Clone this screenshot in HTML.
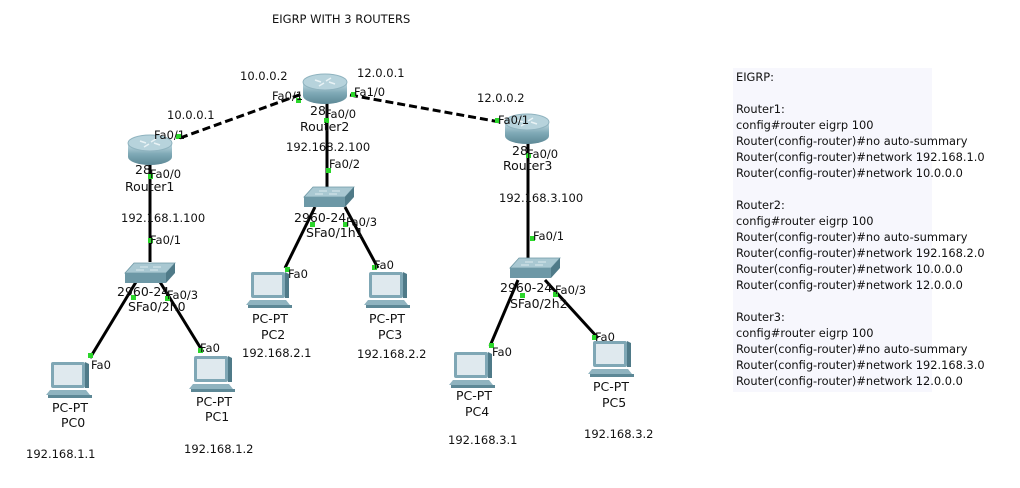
<!DOCTYPE html>
<html><head><meta charset="utf-8"><style>
html,body{margin:0;padding:0;background:#fff;}
body{width:1020px;height:488px;position:relative;overflow:hidden;font-family:"Liberation Sans",sans-serif;}
svg{position:absolute;left:0;top:0;}
svg text{font-family:"DejaVu Sans","Liberation Sans",sans-serif;font-size:11.5px;fill:#111;}
svg text.b{font-size:12.5px;}
svg text.t{font-size:11.5px;}
.box{position:absolute;left:733px;top:68px;width:199px;height:324px;background:#f7f7fd;}
.cfg{position:absolute;left:736px;top:69px;font-family:"DejaVu Sans","Liberation Sans",sans-serif;font-size:11.4px;line-height:16px;white-space:pre;color:#111;}
</style></head><body>
<div class="box"></div>
<div class="cfg">EIGRP:

Router1:
config#router eigrp 100
Router(config-router)#no auto-summary
Router(config-router)#network 192.168.1.0
Router(config-router)#network 10.0.0.0

Router2:
config#router eigrp 100
Router(config-router)#no auto-summary
Router(config-router)#network 192.168.2.0
Router(config-router)#network 10.0.0.0
Router(config-router)#network 12.0.0.0

Router3:
config#router eigrp 100
Router(config-router)#no auto-summary
Router(config-router)#network 192.168.3.0
Router(config-router)#network 12.0.0.0</div>
<svg width="1020" height="488" viewBox="0 0 1020 488">
<defs>
<linearGradient id="rg" x1="0" y1="0" x2="0" y2="1"><stop offset="0" stop-color="#c5dde5"/><stop offset="0.5" stop-color="#7fa9b6"/><stop offset="1" stop-color="#5d8896"/></linearGradient>
<g id="router">
<path d="M-22,-7 L-22,7 A22,8 0 0 0 22,7 L22,-7 Z" fill="url(#rg)"/>
<ellipse cx="0" cy="-7" rx="22" ry="8" fill="#b7d3dc" stroke="#8fb3bf"/>
<path d="M-10,-9 l6,2 M10,-5 l-6,-2 M-6,-3 l5,-3 M6,-11 l-5,3" stroke="#e8f2f5" stroke-width="1.5"/>
</g>
<g id="switch">
<path d="M-16,-10 L25,-10 L16,0 L-25,0 Z" fill="#a9c8d2" stroke="#6f98a5" stroke-width="0.8"/>
<path d="M-25,0 L16,0 L16,10 L-25,10 Z" fill="#6d98a6"/>
<path d="M16,0 L25,-10 L25,0 L16,10 Z" fill="#4f7a88"/>
<path d="M-10,-6 h8 M3,-6 h8 M-14,-3 h8 M0,-3 h8" stroke="#dbeaef" stroke-width="1"/>
</g>
<g id="pc">
<rect x="-19" y="-18" width="34" height="26" rx="2" fill="#7fa7b5"/>
<rect x="-16" y="-15" width="28" height="20" fill="#dfe9ee"/>
<path d="M15,-18 l4,2 v24 l-4,0 Z" fill="#4f7a88"/>
<path d="M-20,10 h36 l4,5 h-44 Z" fill="#8fb3bf"/>
<path d="M-22,15 h44 v3 h-44 Z" fill="#5d8896"/>
</g>
</defs>
<text x="272" y="23" class="t">EIGRP WITH 3 ROUTERS</text>
<g stroke="#000" stroke-width="3" fill="none">
<path d="M180,138 L302,94" stroke-dasharray="8,4"/>
<path d="M350,95 L500,122" stroke-dasharray="8,4"/>
<path d="M150,160 V262"/>
<path d="M327,101 V187"/>
<path d="M528,143 V258"/>
<path d="M136,282 L90,358"/><path d="M160,282 L203,352"/>
<path d="M315,207 L285,268"/><path d="M345,207 L378,268"/>
<path d="M518,280 L490,346"/><path d="M545,280 L598,338"/>
</g>
<use href="#router" x="150" y="150"/>
<use href="#router" x="325" y="89"/>
<use href="#router" x="527" y="129"/>
<use href="#switch" x="150" y="273"/>
<use href="#switch" x="329" y="197"/>
<use href="#switch" x="535" y="268"/>
<use href="#pc" x="70" y="380"/>
<use href="#pc" x="213" y="374"/>
<use href="#pc" x="270" y="290"/>
<use href="#pc" x="388" y="290"/>
<use href="#pc" x="473" y="370"/>
<use href="#pc" x="612" y="359"/>
<g fill="#2bd62b">
<rect x="176" y="134" width="5" height="5"/><rect x="296" y="98" width="5" height="5"/>
<rect x="351" y="92" width="5" height="5"/><rect x="495" y="118" width="5" height="5"/>
<rect x="148" y="174" width="5" height="5"/><rect x="324" y="118" width="5" height="5"/>
<rect x="526" y="153" width="5" height="5"/>
<rect x="148" y="238" width="5" height="5"/><rect x="326" y="168" width="5" height="5"/><rect x="530" y="236" width="5" height="5"/>
<rect x="131" y="295" width="5" height="5"/><rect x="165" y="296" width="5" height="5"/>
<rect x="88" y="353" width="5" height="5"/><rect x="198" y="348" width="5" height="5"/>
<rect x="310" y="222" width="5" height="5"/><rect x="343" y="222" width="5" height="5"/>
<rect x="285" y="267" width="5" height="5"/><rect x="372" y="265" width="5" height="5"/>
<rect x="520" y="293" width="5" height="5"/><rect x="553" y="292" width="5" height="5"/>
<rect x="489" y="343" width="5" height="5"/><rect x="592" y="335" width="5" height="5"/>
</g>
<g>
<text x="240" y="80">10.0.0.2</text><text x="357" y="77">12.0.0.1</text>
<text x="272" y="100">Fa0/1</text><text x="354" y="96">Fa1/0</text>
<text x="167" y="119">10.0.0.1</text><text x="477" y="102">12.0.0.2</text>
<text x="310" y="115" class="b">28</text><text x="325" y="118">Fa0/0</text><text x="300" y="131" class="b">Router2</text>
<text x="154" y="139">Fa0/1</text><text x="498" y="124">Fa0/1</text>
<text x="135" y="174" class="b">28</text><text x="150" y="178">Fa0/0</text><text x="125" y="191" class="b">Router1</text>
<text x="512" y="155" class="b">28</text><text x="527" y="158">Fa0/0</text><text x="503" y="170" class="b">Router3</text>
<text x="286" y="151">192.168.2.100</text><text x="329" y="168">Fa0/2</text>
<text x="121" y="222">192.168.1.100</text><text x="499" y="202">192.168.3.100</text>
<text x="150" y="244">Fa0/1</text><text x="533" y="240">Fa0/1</text>
<text x="294" y="222" class="b">2960-24</text><text x="346" y="226">Fa0/3</text><text x="306" y="237" class="b">SFa0/1h1</text>
<text x="117" y="296" class="b">2960-24</text><text x="167" y="299">Fa0/3</text><text x="128" y="311" class="b">SFa0/2h0</text>
<text x="500" y="292" class="b">2960-24</text><text x="555" y="294">Fa0/3</text><text x="510" y="308" class="b">SFa0/2h2</text>
<text x="288" y="278">Fa0</text><text x="374" y="269">Fa0</text>
<text x="91" y="369">Fa0</text><text x="200" y="352">Fa0</text>
<text x="492" y="356">Fa0</text><text x="595" y="341">Fa0</text>
<text x="252" y="323" class="b">PC-PT</text><text x="261" y="339" class="b">PC2</text>
<text x="369" y="323" class="b">PC-PT</text><text x="378" y="339" class="b">PC3</text>
<text x="52" y="412" class="b">PC-PT</text><text x="61" y="427" class="b">PC0</text>
<text x="196" y="406" class="b">PC-PT</text><text x="205" y="421" class="b">PC1</text>
<text x="456" y="400" class="b">PC-PT</text><text x="465" y="416" class="b">PC4</text>
<text x="593" y="391" class="b">PC-PT</text><text x="602" y="407" class="b">PC5</text>
<text x="242" y="357">192.168.2.1</text><text x="357" y="358">192.168.2.2</text>
<text x="26" y="458">192.168.1.1</text><text x="184" y="453">192.168.1.2</text>
<text x="448" y="444">192.168.3.1</text><text x="584" y="438">192.168.3.2</text>
</g>
</svg>
</body></html>
